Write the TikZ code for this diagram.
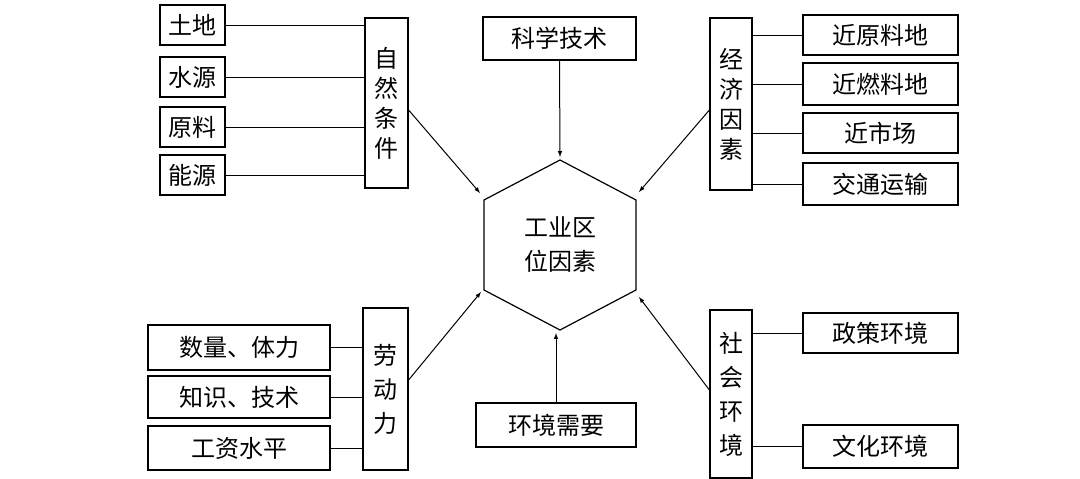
\documentclass[tikz,border=0pt]{standalone}
\usepackage{fontspec}
\setmainfont{Noto Sans CJK SC}
\begin{document}
\begin{tikzpicture}[x=1pt,y=-1pt,
  bx/.style={draw,line width=1.2pt,inner sep=0pt,font=\fontsize{24}{26}\selectfont},
  ln/.style={line width=1pt},
  ar/.style={line width=1pt,-latex}]
\useasboundingbox[fill=white] (0,0) rectangle (1080,479);
\newcommand\bb[6]{\node[bx,minimum width=#4-#2,minimum height=#5-#3] (#1) at ({(#2+#4)/2},{(#3+#5)/2}) {#6};}
\bb{a1}{160}{5}{225}{45}{土地}
\bb{a2}{160}{57}{225}{97}{水源}
\bb{a3}{160}{107}{225}{147}{原料}
\bb{a4}{160}{155}{225}{195}{能源}
\node[bx,minimum width=43,minimum height=170,align=center,font=\fontsize{24}{30}\selectfont] (A) at (386.5,103) {自\\然\\条\\件};
\bb{K}{483}{17}{636}{60}{科学技术}
\node[bx,minimum width=42,minimum height=172,align=center,font=\fontsize{24}{30}\selectfont] (E) at (731,104) {经\\济\\因\\素};
\bb{e1}{803}{15}{958}{55}{近原料地}
\bb{e2}{803}{63}{958}{105}{近燃料地}
\bb{e3}{803}{113}{958}{153}{近市场}
\bb{e4}{803}{163}{958}{205}{交通运输}
\coordinate (h1) at (560,160); \coordinate (h2) at (636,200); \coordinate (h3) at (636,290);
\coordinate (h4) at (560,330); \coordinate (h5) at (484,290); \coordinate (h6) at (484,200);
\draw[line width=1.2pt] (h1)--(h2)--(h3)--(h4)--(h5)--(h6)--cycle;
\node[font=\fontsize{24}{34}\selectfont,align=center] (H) at (560,245) {工业区\\位因素};
\node[bx,minimum width=45,minimum height=162,align=center,font=\fontsize{24}{34}\selectfont] (L) at (385.5,389) {劳\\动\\力};
\bb{l1}{148}{325}{330}{370}{数量、体力}
\bb{l2}{148}{376}{330}{418}{知识、技术}
\bb{l3}{148}{426}{330}{470}{工资水平}
\bb{V}{476}{403}{636}{447}{环境需要}
\node[bx,minimum width=42,minimum height=168,align=center,font=\fontsize{24}{34}\selectfont] (S) at (731,394) {社\\会\\环\\境};
\bb{s1}{803}{313}{958}{353}{政策环境}
\bb{s2}{803}{425}{958}{468}{文化环境}
\foreach \n in {a1,a2,a3,a4} \draw[ln] (\n.east) -- (\n.east -| A.west);
\foreach \n in {l1,l2,l3} \draw[ln] (\n.east) -- (\n.east -| L.west);
\foreach \n in {e1,e2,e3,e4,s1,s2} \draw[ln] (\n.west) -- (\n.west -| E.east);
\draw[ar] (A.east |- 0,110) -- (480,193);
\draw[ar] (K.south) -- (560,157);
\draw[ar] (E.west |- 0,110) -- (639,192);
\draw[ar] (L.east |- 0,380) -- (481,292);
\draw[ar] (V.north -| 556,0) -- (556,333);
\draw[ar] (S.west |- 0,390) -- (639,297);
\end{tikzpicture}
\end{document}
